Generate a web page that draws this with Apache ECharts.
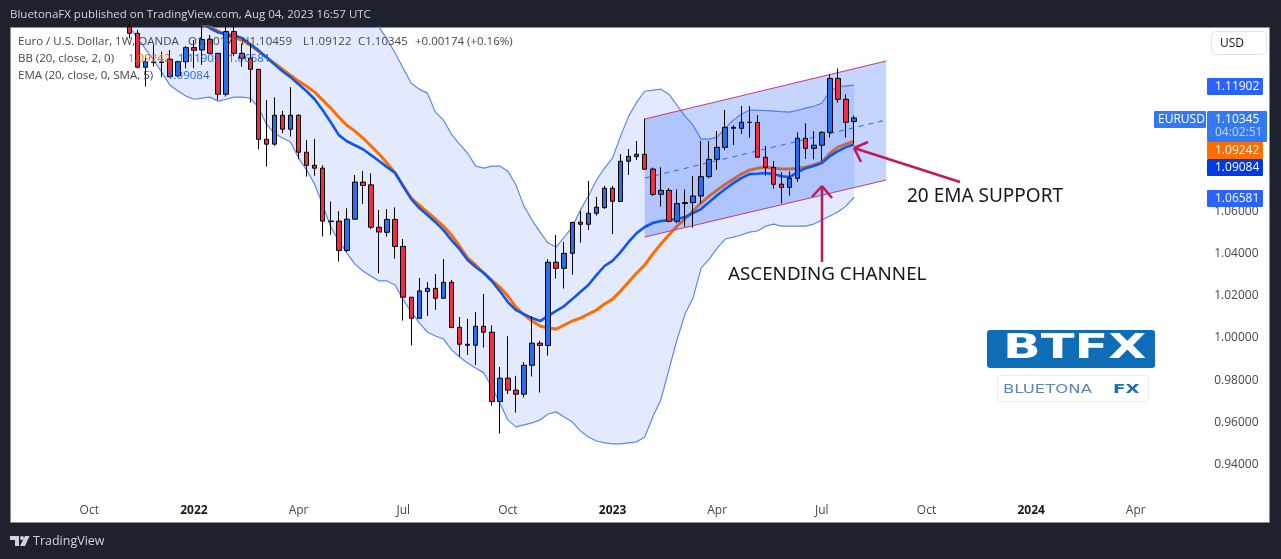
<!DOCTYPE html>
<html><head><meta charset="utf-8">
<style>html,body{margin:0;padding:0;background:#1e222d}#c{width:1281px;height:559px}</style>
<script src="https://cdn.jsdelivr.net/npm/echarts@6/dist/echarts.min.js"></script>
</head><body><div id="c"></div>
<script>
// weekly EUR/USD, oldest first
const opens=[1.1467,1.1436,1.1275,1.1297,1.1300,1.1313,1.1234,1.1301,1.1368,1.1357,1.1407,1.1341,1.1147,1.1444,1.1341,1.1317,1.1265,1.0933,1.0910,1.1047,1.0981,1.1047,1.0872,1.0810,1.0796,1.0545,1.0545,1.0406,1.0554,1.0730,1.0717,1.0516,1.0492,1.0553,1.0425,1.0184,1.0084,1.0211,1.0226,1.0179,1.0255,1.0041,0.9961,0.9956,1.0046,1.0018,0.9689,0.9800,0.9743,0.9724,0.9861,0.9966,0.9955,1.0350,1.0321,1.0392,1.0540,1.0530,1.0582,1.0609,1.0701,1.0638,1.0829,1.0851,1.0862,1.0792,1.0672,1.0691,1.0544,1.0628,1.0633,1.0664,1.0756,1.0838,1.0895,1.0990,1.0985,1.1014,1.1013,1.0848,1.0800,1.0720,1.0705,1.0748,1.0938,1.0890,1.0905,1.0966,1.1222,1.1123,1.10171];
const highs=[1.1490,1.1452,1.1333,1.1380,1.1349,1.1357,1.1306,1.1376,1.1404,1.1467,1.1428,1.1341,1.1475,1.1475,1.1388,1.1388,1.1265,1.1120,1.1132,1.1068,1.1180,1.1052,1.0930,1.0935,1.0810,1.0638,1.0592,1.0606,1.0764,1.0783,1.0772,1.0598,1.0602,1.0610,1.0460,1.0184,1.0275,1.0256,1.0294,1.0365,1.0266,1.0090,1.0081,1.0114,1.0199,1.0051,0.9853,0.9999,0.9811,0.9876,1.0094,0.9977,1.0364,1.0479,1.0446,1.0542,1.0593,1.0735,1.0660,1.0712,1.0712,1.0863,1.0887,1.0925,1.1031,1.0799,1.0800,1.0701,1.0696,1.0696,1.0759,1.0925,1.0925,1.0972,1.1072,1.1000,1.1091,1.1091,1.1048,1.0901,1.0830,1.0777,1.0780,1.0966,1.1009,1.0972,1.0972,1.1243,1.1269,1.1146,1.10459];
const lows=[1.1412,1.1270,1.1183,1.1278,1.1227,1.1227,1.1227,1.1270,1.1270,1.1286,1.1341,1.1120,1.1136,1.1328,1.1278,1.1107,1.0886,1.0804,1.0902,1.0962,1.0946,1.0839,1.0756,1.0760,1.0472,1.0480,1.0353,1.0398,1.0554,1.0627,1.0507,1.0298,1.0471,1.0367,1.0073,0.9955,1.0084,1.0095,1.0124,1.0179,1.0037,0.9902,0.9910,0.9863,0.9945,0.9670,0.9537,0.9725,0.9637,0.9708,0.9808,0.9732,0.9907,1.0272,1.0225,1.0291,1.0443,1.0503,1.0571,1.0603,1.0484,1.0638,1.0764,1.0835,1.0791,1.0664,1.0614,1.0540,1.0535,1.0519,1.0514,1.0630,1.0747,1.0788,1.0882,1.0906,1.0958,1.0941,1.0848,1.0761,1.0699,1.0630,1.0666,1.0732,1.0840,1.0838,1.0830,1.0942,1.1107,1.0941,1.09122];
const closes=[1.1436,1.1275,1.1301,1.1299,1.1298,1.1230,1.1301,1.1368,1.1355,1.1407,1.1341,1.1147,1.1444,1.1341,1.1317,1.1265,1.0933,1.0910,1.1047,1.0981,1.1047,1.0872,1.0809,1.0796,1.0545,1.0543,1.0406,1.0554,1.0730,1.0714,1.0516,1.0493,1.0553,1.0425,1.0184,1.0084,1.0214,1.0226,1.0179,1.0255,1.0040,0.9961,0.9956,1.0046,1.0018,0.9689,0.9800,0.9743,0.9724,0.9861,0.9966,0.9955,1.0350,1.0321,1.0392,1.0539,1.0530,1.0582,1.0611,1.0701,1.0639,1.0829,1.0852,1.0862,1.0791,1.0672,1.0691,1.0544,1.0628,1.0633,1.0664,1.0756,1.0838,1.0895,1.0990,1.0985,1.1014,1.1013,1.0848,1.0800,1.0720,1.0705,1.0748,1.0938,1.0890,1.0905,1.0966,1.1222,1.1123,1.1014,1.10345];
const bbUpper=[1.2050,1.2080,1.2100,1.2110,1.2115,1.2115,1.2110,1.2105,1.2095,1.2085,1.2075,1.2060,1.2050,1.2040,1.2035,1.2030,1.2025,1.2020,1.2010,1.2005,1.2000,1.1990,1.1970,1.1950,1.1920,1.1880,1.1830,1.1770,1.1700,1.1620,1.1545,1.1465,1.1408,1.1341,1.1270,1.1199,1.1171,1.1152,1.1062,1.1024,1.0957,1.0910,1.0867,1.0806,1.0796,1.0806,1.0806,1.0782,1.0716,1.0616,1.0550,1.0493,1.0441,1.0422,1.0469,1.0517,1.0597,1.0664,1.0739,1.0796,1.0844,1.0948,1.1043,1.1109,1.1161,1.1166,1.1171,1.1147,1.1095,1.1043,1.1000,1.0934,1.0934,1.0943,1.0986,1.1024,1.1052,1.1071,1.1071,1.1069,1.1067,1.1064,1.1062,1.1071,1.1081,1.1090,1.1104,1.1161,1.1185,1.1185,1.11902];
const bbLower=[1.1465,1.1413,1.1361,1.1308,1.1252,1.1191,1.1162,1.1138,1.1123,1.1128,1.1133,1.1114,1.1123,1.1133,1.1133,1.1128,1.1086,1.1005,1.0962,1.0939,1.0920,1.0844,1.0787,1.0720,1.0621,1.0517,1.0450,1.0393,1.0341,1.0308,1.0284,1.0261,1.0261,1.0242,1.0171,1.0114,1.0062,1.0019,1.0000,0.9986,0.9934,0.9900,0.9872,0.9848,0.9825,0.9758,0.9682,0.9602,0.9569,0.9578,0.9588,0.9602,0.9630,0.9640,0.9616,0.9592,0.9550,0.9521,0.9502,0.9493,0.9488,0.9488,0.9493,0.9498,0.9521,0.9616,0.9697,0.9839,0.9981,1.0104,1.0180,1.0322,1.0365,1.0417,1.0460,1.0469,1.0479,1.0493,1.0498,1.0521,1.0531,1.0521,1.0521,1.0521,1.0521,1.0531,1.0550,1.0569,1.0588,1.0616,1.06581];
const bbBasis=[null,null,null,null,null,null,null,null,null,1.1479,1.1465,1.1446,1.1427,1.1417,1.1403,1.1379,1.1351,1.1322,1.1294,1.1266,1.1237,1.1209,1.1185,1.1157,1.1119,1.1081,1.1038,1.1000,1.0972,1.0939,1.0901,1.0863,1.0820,1.0773,1.0711,1.0654,1.0621,1.0588,1.0555,1.0521,1.0479,1.0427,1.0370,1.0337,1.0299,1.0265,1.0232,1.0190,1.0137,1.0100,1.0071,1.0047,1.0038,1.0033,1.0052,1.0071,1.0085,1.0104,1.0123,1.0152,1.0175,1.0213,1.0256,1.0299,1.0337,1.0389,1.0436,1.0479,1.0521,1.0555,1.0593,1.0630,1.0664,1.0692,1.0720,1.0744,1.0768,1.0787,1.0796,1.0801,1.0796,1.0792,1.0792,1.0796,1.0801,1.0811,1.0825,1.0867,1.0896,1.0910,1.09242];
const ema20=[null,null,null,null,null,null,null,null,null,1.1484,1.1460,1.1441,1.1431,1.1427,1.1413,1.1384,1.1356,1.1322,1.1289,1.1256,1.1228,1.1194,1.1161,1.1123,1.1071,1.1014,1.0953,1.0924,1.0905,1.0886,1.0858,1.0830,1.0801,1.0773,1.0711,1.0649,1.0607,1.0574,1.0540,1.0502,1.0455,1.0412,1.0360,1.0327,1.0299,1.0261,1.0213,1.0161,1.0123,1.0104,1.0085,1.0071,1.0095,1.0119,1.0142,1.0175,1.0209,1.0242,1.0289,1.0332,1.0356,1.0398,1.0446,1.0488,1.0517,1.0536,1.0545,1.0550,1.0555,1.0564,1.0583,1.0602,1.0635,1.0668,1.0697,1.0725,1.0749,1.0768,1.0770,1.0773,1.0768,1.0758,1.0754,1.0777,1.0796,1.0806,1.0820,1.0853,1.0877,1.0896,1.09084];
const yTicks=[0.94,0.96,0.98,1.00,1.02,1.04,1.06];
const xTickLabels=['Oct','2022','Apr','Jul','Oct','2023','Apr','Jul','Oct','2024','Apr'];
const firstDataCat=14, firstTickCat=9, tickEvery=13, catCount=148;
// trend drawings as [category index, price]
const channelTop=[[78,1.10294],[108,1.13046]];
const channelMid=[[78,1.07495],[108,1.10247]];
const channelBottom=[[78,1.04696],[108,1.07400]];

const categories=[];
for(let i=0,t=Date.UTC(2021,7,2);i<catCount;i++,t+=7*864e5)categories.push(new Date(t).toISOString().slice(0,10));
const tickByCat={};
xTickLabels.forEach((s,i)=>tickByCat[firstTickCat+i*tickEvery]=s);
const pair=a=>a.map((v,i)=>v==null?null:[firstDataCat+i,v]).filter(Boolean);

const UI='"Open Sans",sans-serif';
const T=(x,y,text,o={},extra={})=>Object.assign({type:'text',x,y,z:100,silent:true,style:Object.assign({text,fill:'#434651',font:'11.5px '+UI,textVerticalAlign:'middle'},o)},extra);
const R=(x,y,w,h,fill,r=0,extra={})=>({type:'rect',z:90,silent:true,shape:{x,y,width:w,height:h,r},style:Object.assign({fill},extra)});
const L=(x1,y1,x2,y2)=>({type:'line',z:95,silent:true,shape:{x1,y1,x2,y2},style:{stroke:'#c2185b',lineWidth:2.5}});
const tag=(y,h,x,w,fill,label,tx)=>[R(x,y,w,h,fill,1),T(tx,y+h/2+.5,label,{fill:'#fff',font:'12px '+UI})];

const graphic=[
 {type:'rect',z:-10,silent:true,shape:{x:10.5,y:27.5,width:1259,height:495},style:{fill:'#fff',stroke:'#8a8d96',lineWidth:1}},
 T(10,14.5,'BluetonaFX published on TradingView.com, Aug 04, 2023 16:57 UTC',{fill:'#d1d4dc'}),
 T(18,41.5,'Euro / U.S. Dollar, 1W, OANDA'),
 T(188,41.5,'O1.10171'),T(241,41.5,'H1.10459'),T(303,41.5,'L1.09122'),T(358,41.5,'C1.10345'),T(415,41.5,'+0.00174 (+0.16%)'),
 T(18,58.5,'BB (20, close, 2, 0)'),T(128,58.5,'1.09242',{fill:'#ff6d00'}),T(178,58.5,'1.11902',{fill:'#2962ff'}),T(228,58.5,'1.06581',{fill:'#2962ff'}),
 T(18,75.5,'EMA (20, close, 0, SMA, 5)'),T(167,75.5,'1.09084',{fill:'#2962ff'}),
 R(1211.5,31.5,55,23,'#fff',5,{stroke:'#e0e3eb',lineWidth:1}),
 T(1220,43.5,'USD',{fill:'#131722',font:'12px '+UI}),
 ...tag(78,17,1207,56,'#2962ff','1.11902',1215),
 R(1207,111,60,31,'#3179f5',1),
 T(1215,119.5,'1.10345',{fill:'#fff',font:'12px '+UI}),T(1215,133,'04:02:51',{fill:'#c7d9fb',font:'12px '+UI}),
 ...tag(111,17,1154,52,'#3179f5','EURUSD',1158),
 ...tag(142,17,1207,56,'#ff6d00','1.09242',1215),
 ...tag(159,17,1207,56,'#0039e6','1.09084',1215),
 ...tag(190,17,1207,56,'#2962ff','1.06581',1215),
 // drawings
 L(960,182,854,148),L(868,142,854,148),L(854,148,861,162),
 L(822,262,822,186),L(812,197,822,186),L(822,186,832,198),
 T(907,197,'20 EMA SUPPORT',{fill:'#131722',font:'19px "Noto Sans",sans-serif'}),
 T(728,275,'ASCENDING CHANNEL',{fill:'#131722',font:'18.8px "Noto Sans",sans-serif'}),
 // logo
 R(987,330,168,38,'#0f6db8',3),
 T(1003,349,'BTFX',{fill:'#fff',font:'bold 33px "DejaVu Sans",sans-serif'},{scaleX:1.5}),
 R(997.5,375.5,151,26,'#fff',2,{stroke:'#ececec',lineWidth:1}),
 T(1003,390,'BLUETONA',{fill:'#5d86b3',font:'13px "DejaVu Sans",sans-serif'},{scaleX:1.27}),
 T(1113,390,'FX',{fill:'#1a6fb5',font:'bold 13px "DejaVu Sans",sans-serif'},{scaleX:1.4}),
 // footer
 {type:'polygon',z:90,silent:true,shape:{points:[[10,536],[19,536],[19,546],[15,546],[15,540],[10,540]]},style:{fill:'#d1d4dc'}},
 {type:'circle',z:90,silent:true,shape:{cx:22,cy:538,r:2},style:{fill:'#d1d4dc'}},
 {type:'polygon',z:90,silent:true,shape:{points:[[25,536],[29.5,536],[25,546],[20,546]]},style:{fill:'#d1d4dc'}},
 T(33,541.5,'TradingView',{fill:'#d1d4dc',font:'12.5px '+UI})
];

const polyItem=(points,api,style)=>({type:'polygon',shape:{points:points.map(p=>api.coord(p))},style});
const seg=(pts,api,style)=>{const a=pts.map(q=>api.coord(q));return {type:'line',shape:{x1:a[0][0],y1:a[0][1],x2:a[1][0],y2:a[1][1]},style};};
const chart=echarts.init(document.getElementById('c'),null,{renderer:'canvas'});
chart.setOption({
 animation:false,backgroundColor:'#1e222d',graphic,
 grid:{left:12.8,right:76.8,top:27,height:468,containLabel:false},
 xAxis:{type:'category',data:categories,boundaryGap:true,
  axisLine:{show:false},axisTick:{show:false},splitLine:{show:false},
  axisLabel:{interval:i=>tickByCat[i]!==undefined,hideOverlap:false,margin:10,
   formatter:(v,i)=>{const s=tickByCat[i]||'';return /^\d+$/.test(s)?'{y|'+s+'}':'{m|'+s+'}';},
   rich:{y:{color:'#131722',fontWeight:'bold',fontSize:12,fontFamily:'Open Sans'},m:{color:'#434651',fontSize:12,fontFamily:'Open Sans'}}}},
 yAxis:{type:'value',position:'right',min:0.92457,max:1.14658,scale:true,
  axisLine:{show:false},axisTick:{show:false},splitLine:{show:false},
  axisLabel:{customValues:yTicks,margin:10,formatter:v=>'{a|'+v.toFixed(5)+'}',
   rich:{a:{color:'#434651',fontSize:12,fontFamily:'Open Sans',padding:[4,0,0,0]}}}},
 series:[
  {type:'custom',z:1,clip:true,silent:true,data:[[0,1]],renderItem:(p,api)=>polyItem(
    bbUpper.map((v,i)=>[firstDataCat+i,v]).concat(bbLower.map((v,i)=>[firstDataCat+i,v]).reverse()),
    api,{fill:'rgba(41,90,240,0.13)'})},
  {type:'line',z:2,data:pair(bbUpper),showSymbol:false,silent:true,lineStyle:{color:'#5b87f5',width:1.2}},
  {type:'line',z:2,data:pair(bbLower),showSymbol:false,silent:true,lineStyle:{color:'#5b87f5',width:1.2}},
  {type:'line',z:3,data:pair(bbBasis),showSymbol:false,silent:true,lineStyle:{color:'#ff6d00',width:3}},
  {type:'custom',z:4,clip:true,silent:true,data:[[0,1]],renderItem:(p,api)=>({type:'group',children:[
    polyItem([channelTop[0],channelTop[1],channelBottom[1],channelBottom[0]],api,{fill:'rgba(41,98,255,0.27)'}),
    seg(channelTop,api,{stroke:'#c2427e',lineWidth:1.2}),
    seg(channelBottom,api,{stroke:'#c2427e',lineWidth:1.2}),
    seg(channelMid,api,{stroke:'#2962ff',lineWidth:1,lineDash:[5,5]})
   ]})},
  {type:'line',z:5,data:pair(ema20),showSymbol:false,silent:true,lineStyle:{color:'#0f56ee',width:2.6}},
  {type:'candlestick',z:6,silent:true,barWidth:5,
   encode:{x:0,y:[1,2,3,4]},
   data:opens.map((o,i)=>[firstDataCat+i,o,closes[i],lows[i],highs[i]]),
   itemStyle:{color:'#246ef0',color0:'#f22c44',borderColor:'#000',borderColor0:'#000',borderColorDoji:'#000',borderWidth:1}}
 ]
});
</script></body></html>
